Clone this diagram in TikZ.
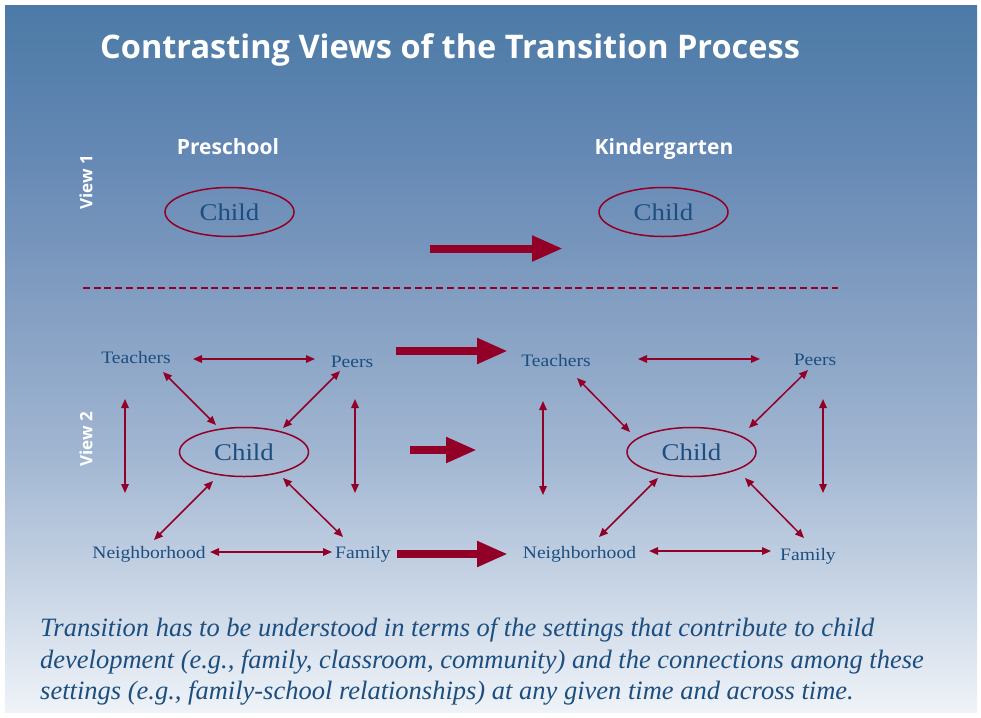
\documentclass[tikz,border=0pt]{standalone}
\usepackage{fontspec}
\setmainfont{Liberation Serif}
\newfontfamily\sansb{Open Sans}
\newfontfamily\labfont[FakeStretch=1.12]{Liberation Serif}
\usetikzlibrary{arrows.meta,shapes.geometric,calc}
\definecolor{cred}{RGB}{146,0,40}
\definecolor{cblue}{RGB}{28,78,128}
\pgfdeclareverticalshading{bgshade}{100bp}{rgb(0bp)=(0.937,0.953,0.973); rgb(25bp)=(0.937,0.953,0.973); rgb(34.35bp)=(0.776,0.827,0.894); rgb(43.56bp)=(0.627,0.71,0.82); rgb(54.89bp)=(0.502,0.612,0.753); rgb(64.8bp)=(0.392,0.533,0.706); rgb(75bp)=(0.298,0.478,0.651); rgb(100bp)=(0.298,0.478,0.651)}
\tikzset{
  titlestyle/.style={text=white,font=\sansb\bfseries\fontsize{32.5}{38}\selectfont,inner sep=0pt},
  hdr/.style={text=white,font=\sansb\bfseries\fontsize{21}{25}\selectfont,inner sep=0pt,anchor=base},
  viewlab/.style={text=white,font=\sansb\bfseries\fontsize{17}{20}\selectfont,inner sep=0pt,rotate=90},
  childnode/.style={ellipse,draw=cred,line width=1.5pt,minimum width=129pt,minimum height=49pt,inner sep=0pt,text=cblue,font=\labfont\fontsize{24}{28}\selectfont},
  lab/.style={text=cblue,font=\labfont\fontsize{17.5}{20}\selectfont,inner sep=0pt,anchor=base},
  dbl/.style={draw=cred,line width=1.5pt,{Triangle[length=9pt,width=7.5pt]}-{Triangle[length=9pt,width=7.5pt]}},
  bigarrow/.style={draw=cred,line width=8pt,-{Triangle[length=31pt,width=24pt]}},
  capline/.style={text=cblue,font=\itshape\fontsize{26.5}{32}\selectfont,inner sep=0pt,anchor=base west}
}
\begin{document}
\begin{tikzpicture}[x=1pt,y=-1pt]
\useasboundingbox (0,0) rectangle (981,717);
\fill[white] (0,0) rectangle (981,717);
\shade[shading=bgshade] (5,6) rectangle (977,712);
% title
\node[titlestyle,anchor=base west] (title) at (100,59) {Contrasting Views of the Transition Process};
% view 1
\node[hdr] (pre) at (228,154) {Preschool};
\node[hdr] (kin) at (664,154.5) {Kindergarten};
\node[viewlab] (v1) at (86,182) {View 1};
\node[viewlab] (v2) at (86,439) {View 2};
\node[childnode] (c1) at (229.5,212) {Child};
\node[childnode] (c2) at (663.5,212) {Child};
\coordinate (a1s) at (430,248.5);
\coordinate (a1e) at (563,248.5);
\draw[bigarrow] (a1s) -- (a1e);
% dashed separator
\coordinate (d1) at (83,288);
\coordinate (d2) at (838,288);
\draw[cred,line width=1.3pt,dash pattern=on 7pt off 3.7pt] (d1) -- (d2);
% view 2 left
\node[lab] (teachL) at (136,363) {Teachers};
\node[lab] (peersL) at (352,367) {Peers};
\node[childnode] (childL) at (244,452) {Child};
\node[lab] (neighL) at (149,558) {Neighborhood};
\node[lab] (famL) at (363,558) {Family};
\draw[dbl] ([shift={(57,-4)}]teachL.base) -- ([shift={(-37,-8)}]peersL.base);
\draw[dbl] ([shift={(61,-6)}]neighL.base) -- ([shift={(-31,-6)}]famL.base);
\draw[dbl] ([shift={(-11,36)}]teachL.base) -- ([shift={(-24,-65)}]neighL.base);
\draw[dbl] ([shift={(3,32)}]peersL.base) -- ([shift={(-8,-65)}]famL.base);
\draw[dbl] ([shift={(27,9)}]teachL.base) -- ([shift={(-28,-27)}]childL.center);
\draw[dbl] ([shift={(-12,4)}]peersL.base) -- ([shift={(39,-24)}]childL.center);
\draw[dbl] ([shift={(5,-18)}]neighL.base) -- ([shift={(-31,29)}]childL.center);
\draw[dbl] ([shift={(-20,-21)}]famL.base) -- ([shift={(39,26)}]childL.center);
% view 2 right
\node[lab] (teachR) at (556,366) {Teachers};
\node[lab] (peersR) at (815,365) {Peers};
\node[childnode] (childR) at (691.5,452) {Child};
\node[lab] (neighR) at (579.5,558) {Neighborhood};
\node[lab] (famR) at (808,560) {Family};
\draw[dbl] ([shift={(82,-7)}]teachR.base) -- ([shift={(-55,-6)}]peersR.base);
\draw[dbl] ([shift={(69.5,-7)}]neighR.base) -- ([shift={(-37,-9)}]famR.base);
\draw[dbl] ([shift={(-13,35)}]teachR.base) -- ([shift={(-36.5,-63)}]neighR.base);
\draw[dbl] ([shift={(8,34)}]peersR.base) -- ([shift={(15,-67)}]famR.base);
\draw[dbl] ([shift={(21,12)}]teachR.base) -- ([shift={(-61.5,-20)}]childR.center);
\draw[dbl] ([shift={(-7,5)}]peersR.base) -- ([shift={(57.5,-24)}]childR.center);
\draw[dbl] ([shift={(19.5,-21)}]neighR.base) -- ([shift={(-33.5,26)}]childR.center);
\draw[dbl] ([shift={(-4,-22)}]famR.base) -- ([shift={(53.5,26)}]childR.center);
% transition arrows view 2
\coordinate (b1s) at (396,351); \coordinate (b1e) at (508,351);
\coordinate (b2s) at (410,450); \coordinate (b2e) at (477,450);
\coordinate (b3s) at (397,554); \coordinate (b3e) at (508,554);
\draw[bigarrow] (b1s) -- (b1e);
\draw[bigarrow] (b2s) -- (b2e);
\draw[bigarrow] (b3s) -- (b3e);
% caption
\node[capline] (cap1) at (40,636) {Transition has to be understood in terms of the settings that contribute to child};
\node[capline] (cap2) at (40,668) {development (e.g., family, classroom, community) and the connections among these};
\node[capline] (cap3) at (40,699.5) {settings (e.g., family-school relationships) at any given time and across time.};
\end{tikzpicture}
\end{document}
